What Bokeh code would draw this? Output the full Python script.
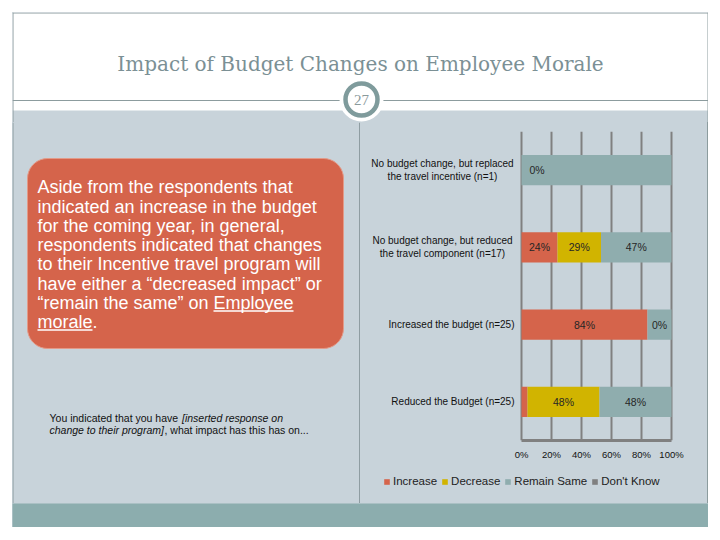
import numpy as np
from bokeh.plotting import figure
from bokeh.models import (Range1d, FactorRange, FixedTicker, PrintfTickFormatter,
                          Legend, LegendItem, ColumnDataSource, Spacer)
from bokeh.layouts import column, row
from bokeh.core.properties import value
from bokeh.embed import file_html
from bokeh.resources import INLINE

# ---------------- data ----------------
title_text = "Impact of Budget Changes on Employee Morale"
slide_number = "27"
categories = ["No budget change, but replaced\nthe travel incentive (n=1)",
              "No budget change, but reduced\nthe travel component (n=17)",
              "Increased the budget (n=25)",
              "Reduced the Budget (n=25)"]
series_names = ["Increase", "Decrease", "Remain Same", "Don't Know"]
increase = [0, 24, 84, 4]
decrease = [0, 29, 0, 48]
remain_same = [100, 47, 16, 48]
dont_know = [0, 0, 0, 0]
increase_labels = ["0%", "24%", "84%", ""]
decrease_labels = ["", "29%", "", "48%"]
remain_labels = ["", "47%", "0%", "48%"]
dont_know_labels = ["", "", "", ""]
x_ticks = [0, 20, 40, 60, 80, 100]
paragraph = ["Aside from the respondents that",
             "indicated an increase in the budget",
             "for the coming year, in general,",
             "respondents indicated that changes",
             "to their Incentive travel program will",
             "have either a \u201cdecreased impact\u201d or",
             "\u201cremain the same\u201d on Employee",
             "morale."]
note_l1_a = "You indicated that you have "
note_l1_b = "[inserted response on"
note_l2_a = "change to their program]"
note_l2_b = ", what impact has this has on..."

# ---------------- styles ----------------
PANEL = "#C8D3DA"
BORDER = "#8C9C9E"
DIVIDER = "#6A7A7E"
ORANGE = "#D5644B"
FOOT = "#8CADAE"
GRID = "#808080"
colors = ["#D5644B", "#D1B400", "#8FADAE", "#808080"]
SANS = value("Liberation Sans")


def base_fig(w, h, xr, yr, bg):
    p = figure(width=w, height=h, x_range=xr, y_range=yr, toolbar_location=None,
               output_backend="svg", x_axis_location=None, y_axis_location=None,
               min_border=0, outline_line_color=None,
               background_fill_color=bg, border_fill_color=bg)
    p.grid.visible = False
    return p


def rounded_rect(l, r, b, t, rad, n=10):
    xs, ys = [], []
    corners = [(r - rad, t - rad, 0.0), (l + rad, t - rad, 0.5 * np.pi),
               (l + rad, b + rad, np.pi), (r - rad, b + rad, 1.5 * np.pi)]
    for cx, cy, a0 in corners:
        a = np.linspace(a0, a0 + 0.5 * np.pi, n)
        xs.extend(cx + rad * np.cos(a))
        ys.extend(cy + rad * np.sin(a))
    return xs, ys

# ---------------- header ----------------
HW, HH = 696, 110
header = base_fig(HW, HH, Range1d(12, 708), Range1d(0, HH), "white")
yh = lambda py: 122 - py
header.quad(left=12, right=708, bottom=-1, top=yh(110), fill_color=PANEL, line_color=None)
header.segment(x0=[12, 12.5, 707.5], y0=[yh(12.5), yh(12), yh(12)],
               x1=[708, 12.5, 707.5], y1=[yh(12.5), 0, 0], line_color=BORDER, line_width=1)
header.segment(x0=[12], y0=[yh(100)], x1=[708], y1=[yh(100)], line_color=BORDER, line_width=1)
header.text(x=[360], y=[yh(63)], text=[title_text], text_align="center", text_baseline="middle",
            text_font=value("DejaVu Serif"), text_font_size="20px", text_color="#7B9095")
header.scatter(x=[361], y=[yh(99)], size=44, marker="circle", fill_color="white", line_color=None)
header.scatter(x=[361], y=[yh(99)], size=32, marker="circle", fill_color="white",
               line_color="#7F9B9C", line_width=4.5)
header.text(x=[361], y=[yh(99)], text=[slide_number], text_align="center", text_baseline="middle",
            text_font=value("Liberation Serif"), text_font_size="15px", text_color="#8A9A9C")

# ---------------- left body ----------------
LW, BH = 348, 381
left = base_fig(LW, BH, Range1d(12, 360), Range1d(0, BH), PANEL)
yl = lambda py: 503 - py
bx, by = rounded_rect(27, 343, yl(348), yl(158), 20)
left.patch(x=bx, y=by, fill_color=ORANGE, line_color="#E39A88", line_width=1)
left.text(x=[37] * len(paragraph), y=[yl(186.7 + i * 19.3) for i in range(len(paragraph))],
          text=paragraph, text_align="left", text_baseline="middle",
          text_font=SANS, text_font_size="18px", text_color="white")
left.segment(x0=[213, 37], y0=[yl(310.5), yl(329.6)], x1=[293, 92], y1=[yl(310.5), yl(329.6)],
             line_color="white", line_width=1.5)
NOTE_FS = "10.5px"
left.text(x=[49], y=[yl(417)], text=[note_l1_a], text_baseline="middle",
          text_font=SANS, text_font_size=NOTE_FS, text_color="#111111")
left.text(x=[181.5], y=[yl(417)], text=[note_l1_b], text_baseline="middle",
          text_font=SANS, text_font_size=NOTE_FS, text_font_style="italic", text_color="#111111")
left.text(x=[49], y=[yl(429.5)], text=[note_l2_a], text_baseline="middle",
          text_font=SANS, text_font_size=NOTE_FS, text_font_style="italic", text_color="#111111")
left.text(x=[164], y=[yl(429.5)], text=[note_l2_b], text_baseline="middle",
          text_font=SANS, text_font_size=NOTE_FS, text_color="#111111")
left.segment(x0=[12.5], y0=[0], x1=[12.5], y1=[BH], line_color=BORDER, line_width=1)
left.segment(x0=[359.5], y0=[0], x1=[359.5], y1=[BH], line_color=DIVIDER, line_width=1.2)

# ---------------- right body (chart) ----------------
RW = 347
CH = 343          # page y 122..465
ZERO_PX = 161
PX_PER_PCT = 1.5
chart = figure(width=RW, height=CH,
               x_range=Range1d(-ZERO_PX / PX_PER_PCT, (RW - ZERO_PX) / PX_PER_PCT),
               y_range=FactorRange(factors=categories[::-1]),
               y_axis_location=None, toolbar_location=None, output_backend="svg",
               min_border_left=0, min_border_right=0, min_border_top=9, min_border_bottom=25,
               background_fill_color=PANEL, border_fill_color=PANEL, outline_line_color=None)

src = ColumnDataSource(dict(cat=categories, inc=increase, dec=decrease,
                            rem=remain_same, dk=dont_know))
renderers = chart.hbar_stack(["inc", "dec", "rem", "dk"], y="cat", height=0.39,
                             fill_color=colors, line_color=None, source=src)

values = [increase, decrease, remain_same, dont_know]
labels = [increase_labels, decrease_labels, remain_labels, dont_know_labels]
cx, cy, ct, zx, zy, zt = [], [], [], [], [], []
for i, cat in enumerate(categories):
    start = 0
    for vals, labs in zip(values, labels):
        v, t = vals[i], labs[i]
        if t:
            if v > 0:
                cx.append(start + v / 2); cy.append(cat); ct.append(t)
            else:
                zx.append(start); zy.append(cat); zt.append(t)
        start += v
chart.text(x=cx, y=cy, text=ct, text_align="center", text_baseline="middle",
           text_font=SANS, text_font_size="10.5px", text_color="#262626")
chart.text(x=zx, y=zy, text=zt, text_align="left", text_baseline="middle", x_offset=8,
           text_font=SANS, text_font_size="10.5px", text_color="#262626")

multi = [c for c in categories if "\n" in c]
single = [c for c in categories if "\n" not in c]
chart.text(x=[0] * len(multi), y=multi, text=multi, text_align="center", text_baseline="middle",
           x_offset=-79, text_line_height=1.2,
           text_font=SANS, text_font_size="10px", text_color="#111111")
chart.text(x=[0] * len(single), y=single, text=single, text_align="right", text_baseline="middle",
           x_offset=-7, text_font=SANS, text_font_size="10px", text_color="#111111")

ax = chart.xaxis[0]
ax.ticker = FixedTicker(ticks=x_ticks)
ax.formatter = PrintfTickFormatter(format="%d%%")
ax.bounds = (0, 100)
ax.axis_line_color = GRID
ax.axis_line_width = 3
ax.major_tick_line_color = None
ax.minor_tick_line_color = None
ax.major_tick_out = 0
ax.major_tick_in = 0
ax.major_label_standoff = 8
ax.major_label_text_font = "Liberation Sans"
ax.major_label_text_font_size = "9.5px"
ax.major_label_text_color = "#111111"
chart.xgrid.ticker = FixedTicker(ticks=x_ticks)
chart.xgrid.grid_line_color = GRID
chart.xgrid.grid_line_width = 2
chart.ygrid.visible = False

# legend strip below the chart (page y 465..503)
SH = BH - CH
strip = base_fig(RW, SH, Range1d(360, 707), Range1d(0, SH), PANEL)
dummy = [strip.hbar(y=[-100], left=[360], right=[361], height=1, fill_color=c, line_color=None)
         for c in colors]
legend = Legend(items=[LegendItem(label=n, renderers=[r]) for n, r in zip(series_names, dummy)],
                orientation="horizontal", location=(23, 16),
                glyph_width=7, glyph_height=7, label_standoff=3, spacing=4,
                padding=0, margin=0, border_line_color=None, background_fill_alpha=0,
                label_text_font="Liberation Sans", label_text_font_size="11.5px",
                label_text_color="#222222", label_height=12)
strip.add_layout(legend)

edge = Spacer(width=1, height=BH, styles={"background-color": BORDER})

# ---------------- footer ----------------
footer = base_fig(696, 24, Range1d(12, 708), Range1d(0, 24), FOOT)

layout = column(header, row(left, column(chart, strip), edge), footer, margin=(12, 4, 4, 12),
                styles={"background-color": PANEL})

open("out.html", "w").write(file_html(layout, INLINE))
